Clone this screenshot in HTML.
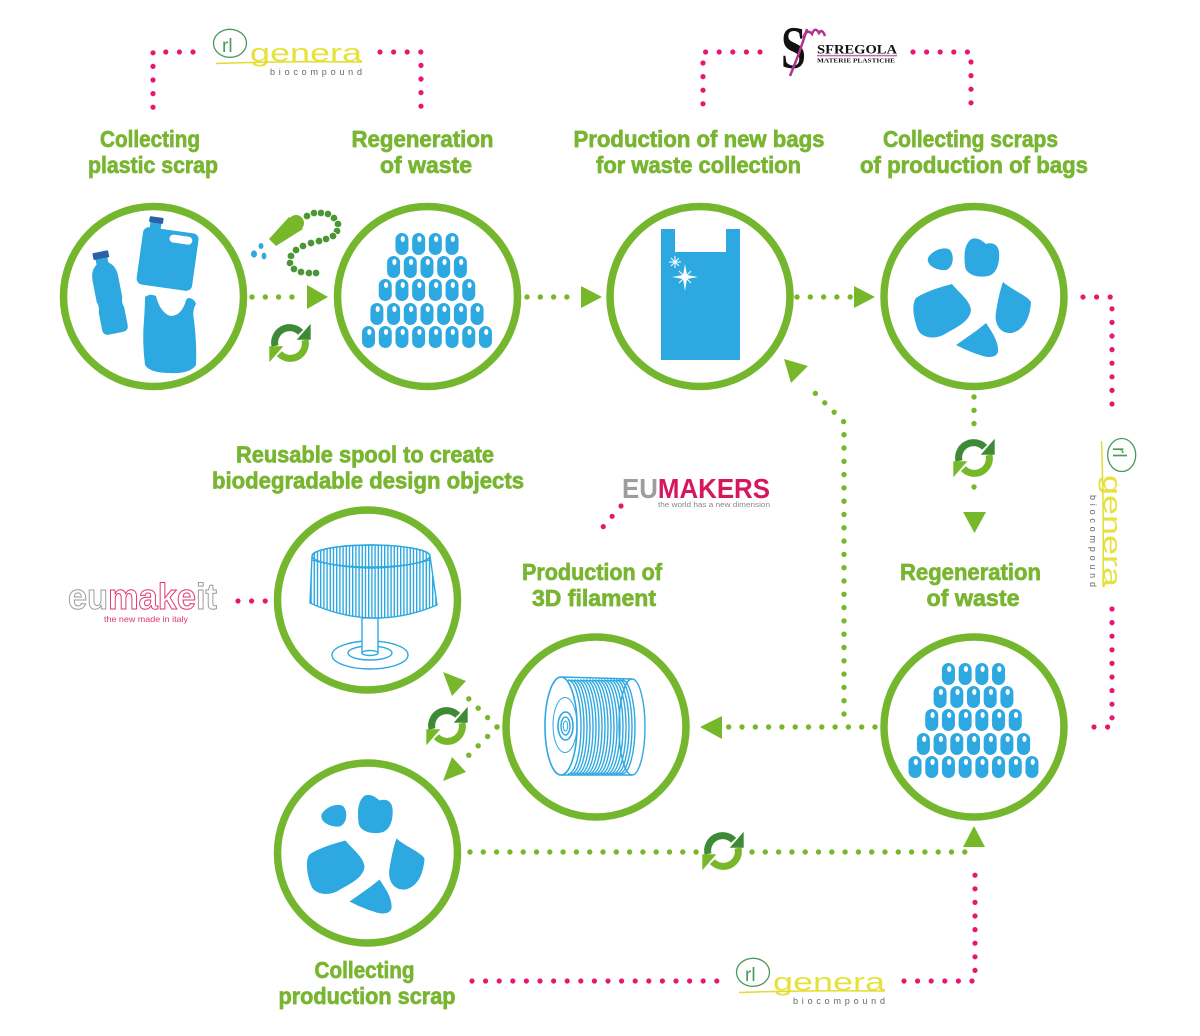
<!DOCTYPE html>
<html><head><meta charset="utf-8"><style>
html,body{margin:0;padding:0;background:#fff;}
svg{display:block;}
</style></head><body>
<svg width="1200" height="1036" viewBox="0 0 1200 1036" xmlns="http://www.w3.org/2000/svg" xmlns:xlink="http://www.w3.org/1999/xlink" font-family="'Liberation Sans', sans-serif">
<defs>
<g id="p"><rect x="-6.5" y="0" width="13" height="22" rx="6.5" fill="#2ea8e0"/><ellipse cx="0.8" cy="6" rx="2.1" ry="3" fill="#fff"/></g>
<g id="r4"><use href="#p" x="-25.05"/><use href="#p" x="-8.35"/><use href="#p" x="8.35"/><use href="#p" x="25.05"/></g>
<g id="r5"><use href="#p" x="-33.4"/><use href="#p" x="-16.7"/><use href="#p" x="0"/><use href="#p" x="16.7"/><use href="#p" x="33.4"/></g>
<g id="r6"><use href="#p" x="-41.75"/><use href="#p" x="-25.05"/><use href="#p" x="-8.35"/><use href="#p" x="8.35"/><use href="#p" x="25.05"/><use href="#p" x="41.75"/></g>
<g id="r7"><use href="#p" x="-50.1"/><use href="#p" x="-33.4"/><use href="#p" x="-16.7"/><use href="#p" x="0"/><use href="#p" x="16.7"/><use href="#p" x="33.4"/><use href="#p" x="50.1"/></g>
<g id="r8"><use href="#p" x="-58.45"/><use href="#p" x="-41.75"/><use href="#p" x="-25.05"/><use href="#p" x="-8.35"/><use href="#p" x="8.35"/><use href="#p" x="25.05"/><use href="#p" x="41.75"/><use href="#p" x="58.45"/></g>
<g id="pyr">
<use href="#r4" x="0" y="0"/><use href="#r5" x="0" y="23"/><use href="#r6" x="0" y="46"/><use href="#r7" x="0" y="70"/><use href="#r8" x="0" y="93"/>
</g>
<g id="rec">
<path d="M-15,3 A15,15 0 0 1 10.6,-10.6" fill="none" stroke="#3f8a36" stroke-width="7"/>
<polygon points="20.7,-19.3 20.7,-3.3 6.7,-3.3" fill="#3f8a36"/>
<path d="M15,-3 A15,15 0 0 1 -10.6,10.6" fill="none" stroke="#76b82a" stroke-width="7"/>
<polygon points="-20.7,19.3 -20.7,3.3 -6.7,3.3" fill="#76b82a"/>
</g>
<g id="scraps" fill="#2ea8e0">
<path d="M928,258 C932,250 945,246 950,250 C955,256 953,268 946,270 C938,271 926,266 928,258 Z"/>
<path d="M970,240 C975,236 982,240 986,244 C992,242 998,244 999,252 C1000,262 997,274 988,276 C978,278 966,275 965,266 C964,256 964,246 970,240 Z"/>
<path d="M916,298 C928,290 945,286 952,284 C958,292 970,300 971,310 C970,322 955,328 945,334 C935,340 922,338 918,330 C914,320 911,305 916,298 Z"/>
<path d="M1003,282 C1012,290 1028,296 1031,302 C1030,318 1024,330 1012,333 C1000,334 994,324 996,312 C998,300 1000,290 1003,282 Z"/>
<path d="M986,323 C992,332 999,342 998,352 C996,358 988,358 980,355 C970,352 962,348 956,345 C966,338 978,330 986,323 Z"/>
</g>
<g id="rig">
<ellipse cx="17" cy="15.3" rx="16.5" ry="14" fill="none" stroke="#4a9a5c" stroke-width="1.3"/>
<text x="9" y="24" font-size="19" fill="#4a9a5c">rl</text>
<text x="37" y="33.7" font-size="25" fill="#e6e23c" textLength="112" lengthAdjust="spacingAndGlyphs">genera</text>
<path d="M3,35.5 Q70,33 149,34" fill="none" stroke="#e2dc32" stroke-width="1.5"/>
<text x="57" y="47" font-size="9" fill="#666" textLength="92" lengthAdjust="spacing">biocompound</text>
</g>
<pattern id="stripes" width="3.2" height="4" patternUnits="userSpaceOnUse"><rect x="0" y="0" width="1.4" height="4" fill="#2ea8e0"/></pattern>
</defs>

<!-- circles -->
<g fill="none" stroke="#74b72e" stroke-width="7.5">
<circle cx="153.5" cy="296.5" r="90"/>
<circle cx="427.5" cy="296.5" r="90"/>
<circle cx="700" cy="296.5" r="90"/>
<circle cx="974" cy="296.5" r="90"/>
<circle cx="367.5" cy="600" r="90"/>
<circle cx="596" cy="727" r="90"/>
<circle cx="367.5" cy="853" r="90"/>
<circle cx="974" cy="727" r="90"/>
</g>

<!-- green dotted connectors -->
<g fill="none" stroke="#76b82a" stroke-width="5.4" stroke-linecap="round" stroke-dasharray="0 13.3">
<path d="M252,297 H305"/>
<path d="M527,297 H576"/>
<path d="M797,297 H851"/>
<path d="M974,397 V434"/>
<path d="M974,487 V500"/>
<path d="M875,727 H723"/>
<path d="M844,714 V422 L807,385"/>
<path d="M497,727 L460,690"/>
<path d="M497,727 L460,764"/>
<path d="M470,852 H697"/>
<path d="M752,852 H973"/>
</g>
<g fill="#76b82a">
<polygon points="307,285 328,297 307,309"/>
<polygon points="581,286 602,297 581,308"/>
<polygon points="854,286 875,297 854,308"/>
<polygon points="963,512 986,512 974.5,533"/>
<polygon points="722,716 700,727 722,739"/>
<polygon points="784,359 808,366 791,383"/>
<polygon points="443,672 466,681 452,696"/>
<polygon points="443,781 452,757 466,772"/>
<polygon points="963,847 985,847 974,826"/>
</g>

<!-- pink dotted connectors -->
<g fill="none" stroke="#e5176f" stroke-width="5.2" stroke-linecap="round" stroke-dasharray="0 13.6">
<path d="M193,52 H153 V110"/>
<path d="M380,52 H421 V110"/>
<path d="M760,52 H703 V110"/>
<path d="M913,52 H971 V110"/>
<path d="M1083,297 H1112 V413"/>
<path d="M1112,609 V727 H1083"/>
<path d="M472,981 H720"/>
<path d="M904,981 H975 V868"/>
<path d="M238,601 H266"/>
<path d="M621,506 L596,535"/>
</g>

<!-- recycle icons -->
<use href="#rec" x="290" y="343"/>
<use href="#rec" x="974" y="458"/>
<use href="#rec" x="447" y="726"/>
<use href="#rec" x="723" y="851"/>

<!-- titles -->
<g font-weight="bold" font-size="23" fill="#78b530" stroke="#78b530" stroke-width="0.7" text-anchor="middle">
<text x="150" y="147" textLength="100" lengthAdjust="spacingAndGlyphs">Collecting</text>
<text x="153" y="173" textLength="130" lengthAdjust="spacingAndGlyphs">plastic scrap</text>
<text x="422.5" y="147" textLength="142" lengthAdjust="spacingAndGlyphs">Regeneration</text>
<text x="426" y="173" textLength="92" lengthAdjust="spacingAndGlyphs">of waste</text>
<text x="699" y="147" textLength="251" lengthAdjust="spacingAndGlyphs">Production of new bags</text>
<text x="698.5" y="173" textLength="205" lengthAdjust="spacingAndGlyphs">for waste collection</text>
<text x="970.5" y="147" textLength="175" lengthAdjust="spacingAndGlyphs">Collecting scraps</text>
<text x="974" y="173" textLength="228" lengthAdjust="spacingAndGlyphs">of production of bags</text>
<text x="365" y="462.5" textLength="258" lengthAdjust="spacingAndGlyphs">Reusable spool to create</text>
<text x="368" y="488.5" textLength="312" lengthAdjust="spacingAndGlyphs">biodegradable design objects</text>
<text x="592" y="580" textLength="140" lengthAdjust="spacingAndGlyphs">Production of</text>
<text x="594" y="606" textLength="124" lengthAdjust="spacingAndGlyphs">3D filament</text>
<text x="970.5" y="580" textLength="141" lengthAdjust="spacingAndGlyphs">Regeneration</text>
<text x="973" y="606" textLength="93" lengthAdjust="spacingAndGlyphs">of waste</text>
<text x="364.5" y="978" textLength="100" lengthAdjust="spacingAndGlyphs">Collecting</text>
<text x="367" y="1004" textLength="177" lengthAdjust="spacingAndGlyphs">production scrap</text>
</g>

<!-- logos: rigenera -->
<use href="#rig" transform="translate(213,28)"/>
<use href="#rig" transform="translate(736,957)"/>
<use href="#rig" transform="translate(1137,438) rotate(90)"/>

<!-- sfregola -->
<g>
<text x="781" y="68" font-family="'Liberation Serif', serif" font-weight="bold" font-size="60" fill="#111" textLength="25" lengthAdjust="spacingAndGlyphs">S</text>
<path d="M807,29 Q800,52 790,76" fill="none" stroke="#b0338f" stroke-width="2.5"/>
<path d="M803,38 Q807,28 812,34 Q815,26 819,33 Q822,28 825,36" fill="none" stroke="#b0338f" stroke-width="2.5"/>
<text x="817" y="53.5" font-family="'Liberation Serif', serif" font-weight="bold" font-size="12.5" fill="#111" textLength="80" lengthAdjust="spacingAndGlyphs">SFREGOLA</text>
<line x1="817" y1="55.6" x2="897" y2="55.6" stroke="#c86aa8" stroke-width="1.5"/>
<text x="817" y="62.5" font-family="'Liberation Serif', serif" font-weight="bold" font-size="6.5" fill="#111" textLength="78" lengthAdjust="spacingAndGlyphs">MATERIE PLASTICHE</text>
</g>

<!-- eumakers -->
<text x="622" y="498" font-weight="bold" font-size="28" textLength="148" lengthAdjust="spacingAndGlyphs"><tspan fill="#9d9d9d">EU</tspan><tspan fill="#d7175b">MAKERS</tspan></text>
<text x="658" y="507" font-size="7.5" fill="#888" textLength="112" lengthAdjust="spacingAndGlyphs">the world has a new dimension</text>

<!-- eumakeit -->
<text x="68" y="609" font-weight="bold" font-size="36" fill="#fff" stroke-width="1" textLength="149" lengthAdjust="spacingAndGlyphs"><tspan stroke="#9a9a9a">eu</tspan><tspan stroke="#e0336f">make</tspan><tspan stroke="#9a9a9a">it</tspan></text>
<text x="104" y="622" font-size="8.5" fill="#e0336f" textLength="84" lengthAdjust="spacingAndGlyphs">the new made in italy</text>

<!-- circle 1 contents -->
<g fill="#2ea8e0">
<g transform="rotate(-11,108,292)">
<path d="M102,258 H114 V263 Q121,268 121,278 V300 Q119,305 121,310 V328 Q121,334 115,334 H101 Q95,334 95,328 V310 Q97,305 95,300 V278 Q95,268 102,263 Z"/>
<rect x="100" y="251" width="16" height="7" rx="1" fill="#2b5fa6"/>
</g>
<g transform="rotate(8,168,256)">
<rect x="140" y="230" width="56" height="58" rx="6"/>
<rect x="146" y="222" width="11" height="12"/>
<rect x="144.5" y="219" width="14" height="6" rx="1" fill="#2b5fa6"/>
<rect x="167" y="234" width="23" height="8" rx="4" fill="#fff"/>
</g>
<path d="M145,297 Q150,293 156,296 Q160,312 170,316 Q182,316 186,300 L188,298 Q194,298 196,304 Q192,310 194,320 Q197,345 196,365 Q190,374 170,373 Q150,373 145,365 Q142,340 144,320 Q145,305 145,297 Z"/>
</g>

<!-- nozzle + beads + droplets -->
<g>
<circle cx="296" cy="223" r="8" fill="#76b82a"/>
<polygon points="289,217 303,229 276,246 269,239" fill="#76b82a"/>
<g fill="#4a9634" stroke="#fff" stroke-width="0.8">
<circle cx="307" cy="216" r="3.8"/><circle cx="314" cy="213" r="3.8"/><circle cx="321" cy="213" r="3.8"/><circle cx="328" cy="214" r="3.8"/><circle cx="334" cy="218" r="3.8"/><circle cx="338" cy="224" r="3.8"/><circle cx="337" cy="231" r="3.8"/><circle cx="333" cy="236" r="3.8"/><circle cx="326" cy="239" r="3.8"/><circle cx="319" cy="241" r="3.8"/><circle cx="311" cy="243" r="3.8"/><circle cx="303" cy="246" r="3.8"/><circle cx="296" cy="250" r="3.8"/><circle cx="291" cy="256" r="3.8"/><circle cx="290" cy="263" r="3.8"/><circle cx="294" cy="269" r="3.8"/><circle cx="301" cy="272" r="3.8"/><circle cx="309" cy="273" r="3.8"/><circle cx="316" cy="273" r="3.8"/>
</g>
<g fill="#2ea8e0">
<ellipse cx="261" cy="246" rx="2.5" ry="3"/>
<ellipse cx="254" cy="254" rx="3" ry="3.6"/>
<ellipse cx="264" cy="256" rx="2.4" ry="3.4"/>
</g>
</g>

<!-- pellets -->
<use href="#pyr" x="427" y="233"/>
<use href="#pyr" x="973.5" y="663"/>

<!-- bag -->
<path d="M661,229 H675 V252 H726 V229 H740 V360 H661 Z" fill="#2ea8e0"/>
<path d="M685,264 L687,275 L698,277 L687,279 L685,291 L683,279 L672,277 L683,275 Z" fill="#fff"/>
<path d="M679,271 L691,283 M691,271 L679,283" stroke="#fff" stroke-width="1"/>
<path d="M675,256 V268 M669,262 H681 M671,258 L679,266 M679,258 L671,266" stroke="#fff" stroke-width="1"/>

<!-- scraps -->
<use href="#scraps"/>
<use href="#scraps" transform="translate(-606.5,556.5)"/>

<!-- lamp -->
<g fill="none" stroke="#2ea8e0" stroke-width="1.4">
<ellipse cx="370" cy="655" rx="38" ry="14" fill="#fff"/>
<ellipse cx="370" cy="653" rx="22" ry="7"/>
<rect x="362" y="618" width="16" height="35" fill="#fff"/>
<ellipse cx="370" cy="653" rx="8" ry="2.5" fill="#fff"/>
<path d="M312,556 A59,11 0 0 1 430,556 L437,605 Q373,632 310,603 Z" fill="url(#stripes)"/>
<ellipse cx="371" cy="556" rx="59" ry="11"/>
<path d="M312,560 Q371,576 430,560"/>
</g>

<!-- spool -->
<g fill="none" stroke="#2ea8e0" stroke-width="1.4">
<ellipse cx="632" cy="727" rx="13" ry="48" fill="#fff"/>
<path d="M561,677 L632,679 M561,775 L632,775"/>
<path d="M568,680 a13,47 0 0 1 0,94 M571,680 a13,47 0 0 1 0,94 M574,680 a13,47 0 0 1 0,94 M577,680 a13,47 0 0 1 0,94 M580,680 a13,47 0 0 1 0,94 M583,680 a13,47 0 0 1 0,94 M586,680 a13,47 0 0 1 0,94 M589,680 a13,47 0 0 1 0,94 M592,680 a13,47 0 0 1 0,94 M595,680 a13,47 0 0 1 0,94 M598,680 a13,47 0 0 1 0,94 M601,680 a13,47 0 0 1 0,94 M604,680 a13,47 0 0 1 0,94 M607,680 a13,47 0 0 1 0,94 M610,680 a13,47 0 0 1 0,94 M613,680 a13,47 0 0 1 0,94 M616,680 a13,47 0 0 1 0,94 M619,680 a13,47 0 0 1 0,94 M622,680 a13,47 0 0 1 0,94"/>
<ellipse cx="561" cy="726" rx="16" ry="49" fill="#fff" stroke-width="1.6"/>
<ellipse cx="565" cy="725" rx="12" ry="27.5" stroke-width="1"/>
<ellipse cx="565.5" cy="726" rx="7.5" ry="14" stroke-width="1.6"/>
<ellipse cx="565.5" cy="726" rx="4.5" ry="9" stroke-width="1.4"/>
<ellipse cx="565.5" cy="726" rx="2.2" ry="5" stroke-width="1"/>
</g>
</svg>
</body></html>
